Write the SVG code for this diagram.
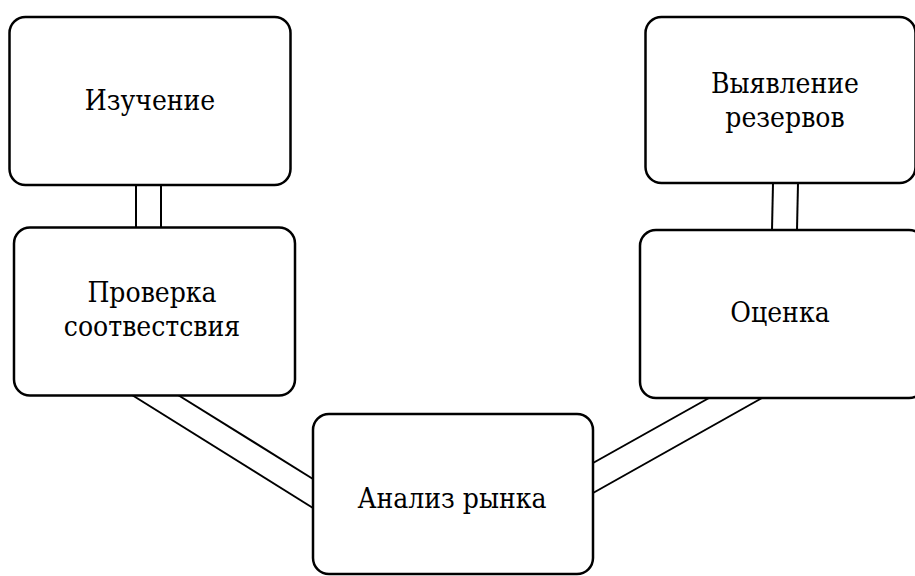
<svg xmlns="http://www.w3.org/2000/svg" width="915" height="576" viewBox="0 0 915 576">
<style>
.box{fill:#fff;stroke:#000;stroke-width:2.5}
.c{stroke:#000;stroke-width:2;fill:none}
.t{font-family:"DejaVu Serif Condensed","DejaVu Serif",serif;font-stretch:condensed;font-size:28px;fill:#000;text-anchor:middle}
</style>
<rect width="915" height="576" fill="#fff"/>
<g id="connectors">
<line class="c" x1="136" y1="185" x2="136" y2="228"/>
<line class="c" x1="161" y1="185" x2="161" y2="228"/>
<line class="c" x1="773" y1="183" x2="772" y2="230"/>
<line class="c" x1="798" y1="183" x2="797" y2="230"/>
<line class="c" x1="132" y1="395" x2="313" y2="508"/>
<line class="c" x1="178" y1="395" x2="313" y2="479"/>
<line class="c" x1="709" y1="398" x2="593" y2="463"/>
<line class="c" x1="762" y1="398" x2="593" y2="493"/>
</g>
<g id="n1">
<rect class="box" x="9.5" y="17" width="281" height="168" rx="16"/>
<text class="t" x="150" y="110">Изучение</text>
</g>
<g id="n2">
<rect class="box" x="14" y="227.5" width="281" height="168" rx="16"/>
<text class="t" x="152" y="302">Проверка</text>
<text class="t" x="152" y="336">соотвестсвия</text>
</g>
<g id="n3">
<rect class="box" x="645.5" y="17" width="270" height="166" rx="16"/>
<text class="t" x="785" y="93">Выявление</text>
<text class="t" x="785" y="127">резервов</text>
</g>
<g id="n4">
<rect class="box" x="640" y="230" width="285" height="168" rx="16"/>
<text class="t" x="780" y="322">Оценка</text>
</g>
<g id="n5">
<rect class="box" x="313" y="414" width="280" height="160" rx="16"/>
<text class="t" x="452" y="508">Анализ рынка</text>
</g>
</svg>
